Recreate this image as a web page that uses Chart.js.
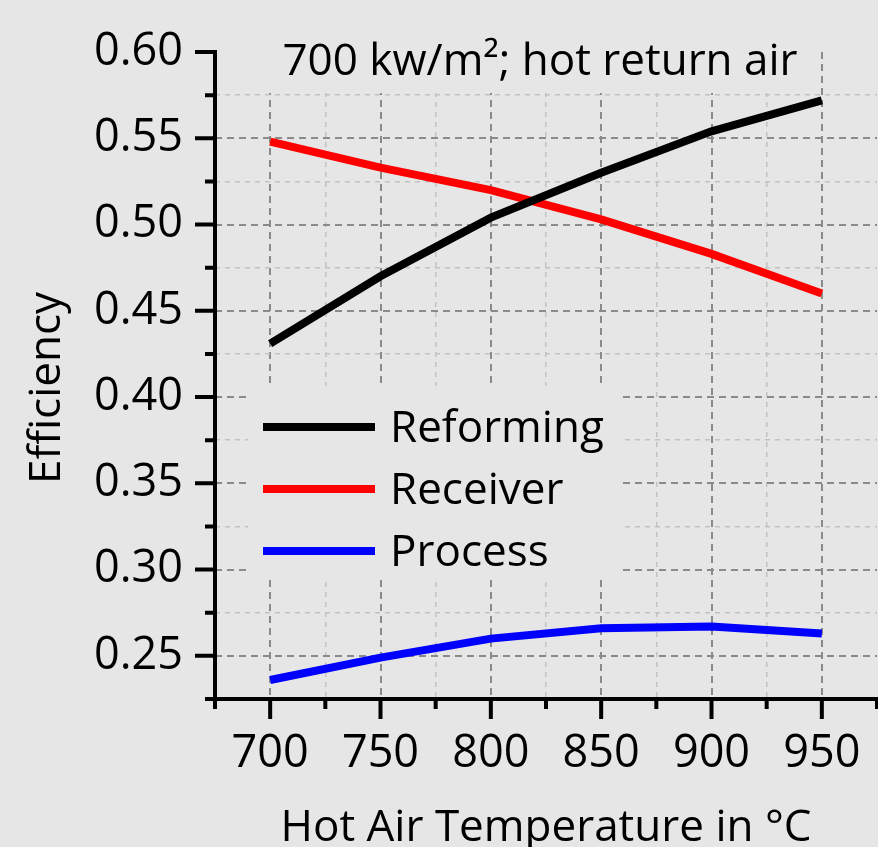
<!DOCTYPE html>
<html>
<head>
<meta charset="utf-8">
<script src="https://cdn.jsdelivr.net/npm/chart.js@4.4.1/dist/chart.umd.min.js"></script>
<style>
  html, body { margin: 0; padding: 0; background: #e6e6e6; overflow: hidden; }
  canvas { display: block; }
</style>
</head>
<body>
<canvas id="grafico" width="878" height="847"></canvas>
<script>
const temperaturas = [700, 750, 800, 850, 900, 950];
const reformingEff = [0.431, 0.470, 0.504, 0.530, 0.554, 0.572];
const receiverEff = [0.548, 0.533, 0.520, 0.503, 0.483, 0.460];
const processEff = [0.236, 0.249, 0.260, 0.266, 0.267, 0.263];
const xTickLabels = ['700', '750', '800', '850', '900', '950'];
const yTickLabels = ['0.25', '0.30', '0.35', '0.40', '0.45', '0.50', '0.55', '0.60'];

const FONT = "'Open Sans', 'Noto Sans', sans-serif";
const FONDO = '#e6e6e6';
const TITULO = '700 kw/m\u00b2; hot return air';
const TITULO_X = 'Hot Air Temperature in \u00b0C';
const TITULO_Y = 'Efficiency';

const esMayorX = v => Math.abs(v / 50 - Math.round(v / 50)) < 1e-6;
const esMayorY = v => Math.abs(v / 0.05 - Math.round(v / 0.05)) < 1e-6;

function serie(label, valores, color) {
  return {
    label: label,
    data: temperaturas.map((t, i) => ({ x: t, y: valores[i] })),
    borderColor: color,
    backgroundColor: color,
    borderWidth: 8,
    borderCapStyle: 'butt',
    pointRadius: 0,
    tension: 0,
    fill: false
  };
}

// fondo gris
const fondo = {
  id: 'fondo',
  beforeDraw(chart) {
    const c = chart.ctx;
    c.save();
    c.fillStyle = FONDO;
    c.fillRect(0, 0, chart.width, chart.height);
    c.restore();
  }
};

// titulo y leyenda dentro del area del grafico, titulos de ejes
const cajas = {
  id: 'cajas',
  beforeDatasetsDraw(chart) {
    const c = chart.ctx;
    const a = chart.chartArea;
    c.save();
    c.fillStyle = FONDO;
    c.fillRect(a.left + 40, a.top - 26, 557, 67);
    c.fillRect(a.left + 33, a.top + 334, 372, 194);

    c.fillStyle = '#000';
    c.font = '44px ' + FONT;
    c.textAlign = 'center';
    c.textBaseline = 'alphabetic';
    c.fillText(TITULO, a.left + 325, a.top + 23);

    // titulo eje x
    c.fillText(TITULO_X, (a.left + a.right) / 2, a.bottom + 142);

    // titulo eje y
    c.save();
    c.translate(a.left - 155, 388);
    c.rotate(-Math.PI / 2);
    c.fillText(TITULO_Y, 0, 0);
    c.restore();

    c.textAlign = 'left';
    c.textBaseline = 'middle';
    chart.data.datasets.forEach((ds, i) => {
      const y = a.top + 375 + i * 62;
      c.strokeStyle = ds.borderColor;
      c.lineWidth = 8;
      c.beginPath();
      c.moveTo(a.left + 48, y);
      c.lineTo(a.left + 160, y);
      c.stroke();
      c.fillStyle = '#000';
      c.fillText(ds.label, a.left + 175, y + 2);
    });
    c.restore();
  }
};

// ejes y marcas de graduacion
const marcas = {
  id: 'marcas',
  afterDraw(chart) {
    const c = chart.ctx;
    const a = chart.chartArea;
    const sx = chart.scales.x;
    const sy = chart.scales.y;
    c.save();
    c.strokeStyle = '#000';
    c.lineWidth = 4;
    c.lineCap = 'butt';
    c.beginPath();
    c.moveTo(a.left, a.top - 2);
    c.lineTo(a.left, a.bottom);
    c.moveTo(a.left, a.bottom);
    c.lineTo(a.right + 2, a.bottom);
    sy.ticks.forEach(t => {
      const py = sy.getPixelForValue(t.value);
      const len = esMayorY(t.value) ? 20 : 10;
      c.moveTo(a.left - len, py);
      c.lineTo(a.left + 2, py);
    });
    sx.ticks.forEach(t => {
      const px = sx.getPixelForValue(t.value);
      const len = esMayorX(t.value) ? 20 : 10;
      c.moveTo(px, a.bottom - 2);
      c.lineTo(px, a.bottom + len);
    });
    c.stroke();
    c.restore();
  }
};

new Chart(document.getElementById('grafico'), {
  type: 'line',
  data: {
    datasets: [
      serie('Reforming', reformingEff, '#000000'),
      serie('Receiver', receiverEff, '#ff0000'),
      serie('Process', processEff, '#0000ff')
    ]
  },
  options: {
    responsive: false,
    animation: false,
    layout: { padding: { top: 52, right: 1, left: 0, bottom: 0 } },
    plugins: {
      legend: { display: false },
      title: { display: false },
      tooltip: { enabled: false }
    },
    scales: {
      x: {
        type: 'linear',
        min: 675,
        max: 975,
        ticks: {
          stepSize: 25,
          autoSkip: false,
          maxRotation: 0,
          minRotation: 0,
          padding: 0,
          color: '#000',
          font: { family: FONT, size: 45 },
          callback: v => xTickLabels.includes(String(v)) ? String(v) : ''
        },
        grid: {
          drawTicks: true,
          tickLength: 28,
          tickColor: 'rgba(0,0,0,0)',
          color: ctx => {
            const v = ctx.tick.value;
            if (v > 974) return 'rgba(0,0,0,0)';
            return esMayorX(v) ? '#8a8a8a' : '#c2c2c2';
          },
          lineWidth: ctx => esMayorX(ctx.tick.value) ? 2 : 1.5
        },
        border: {
          display: false,
          dash: ctx => esMayorX(ctx.tick.value) ? [7, 5] : [5, 5]
        },
        afterFit: s => { s.height = 148; }
      },
      y: {
        type: 'linear',
        min: 0.225,
        max: 0.6,
        ticks: {
          stepSize: 0.025,
          autoSkip: false,
          padding: 0,
          color: '#000',
          font: { family: FONT, size: 45 },
          callback: v => {
            const s = v.toFixed(2);
            return esMayorY(v) && yTickLabels.includes(s) ? s : '';
          }
        },
        grid: {
          drawTicks: true,
          tickLength: 32,
          tickColor: 'rgba(0,0,0,0)',
          color: ctx => {
            const v = ctx.tick.value;
            if (v > 0.599) return 'rgba(0,0,0,0)';
            return esMayorY(v) ? '#8a8a8a' : '#c2c2c2';
          },
          lineWidth: ctx => esMayorY(ctx.tick.value) ? 2 : 1.5
        },
        border: {
          display: false,
          dash: ctx => esMayorY(ctx.tick.value) ? [7, 5] : [5, 5]
        },
        afterFit: s => { s.width = 215; }
      }
    }
  },
  plugins: [fondo, cajas, marcas]
});
</script>
</body>
</html>
